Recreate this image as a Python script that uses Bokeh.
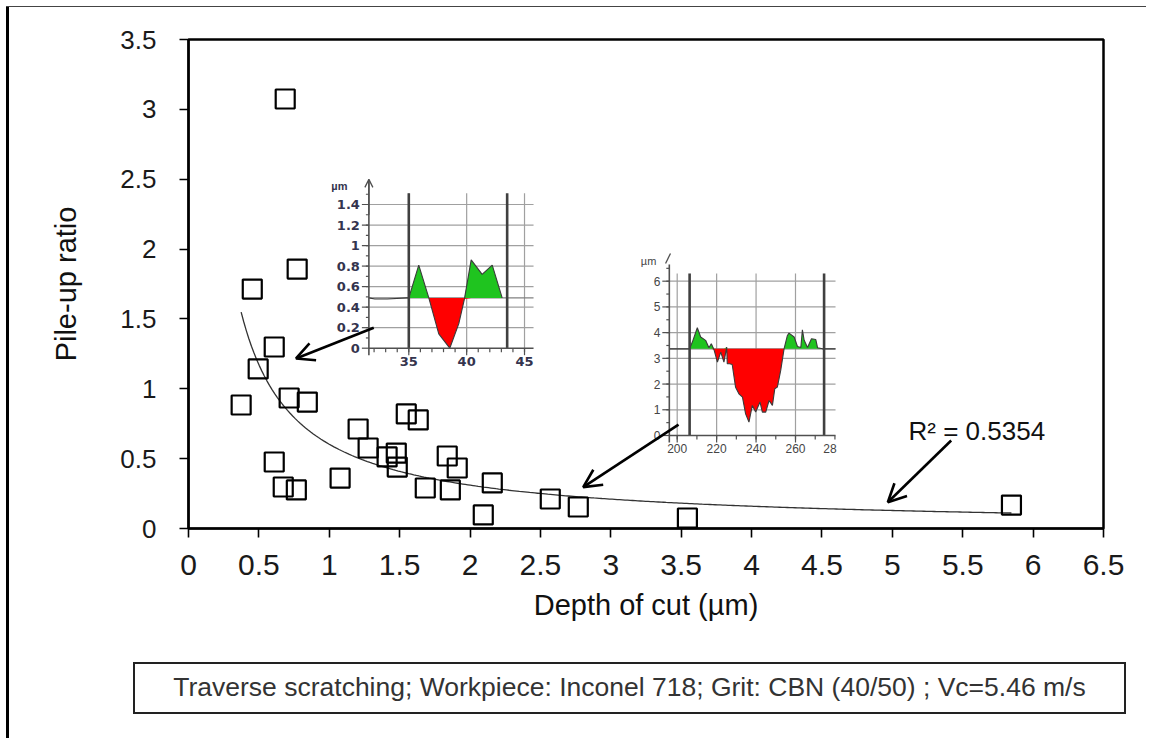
import numpy as np
from bokeh.plotting import figure
from bokeh.layouts import column
from bokeh.models import Range1d, FixedTicker, Label, Arrow, OpenHead, Div
from bokeh.core.properties import value
from bokeh.embed import file_html
from bokeh.resources import INLINE

# ---------------- main data ----------------
depth_um = [0.687, 0.453, 0.772, 0.609, 0.495, 0.374, 0.715, 0.844, 0.609, 0.673,
            0.766, 1.077, 1.205, 1.276, 1.411, 1.476, 1.483, 1.547, 1.632, 1.682,
            1.838, 1.860, 1.909, 2.094, 2.158, 2.570, 2.769, 3.544, 5.846]
pileup_ratio = [3.074, 1.714, 1.857, 1.299, 1.142, 0.884, 0.934, 0.905, 0.476, 0.297,
                0.276, 0.361, 0.712, 0.576, 0.512, 0.540, 0.440, 0.820, 0.777, 0.290,
                0.519, 0.276, 0.433, 0.097, 0.326, 0.211, 0.154, 0.075, 0.168]

x_ticks = [0, 0.5, 1, 1.5, 2, 2.5, 3, 3.5, 4, 4.5, 5, 5.5, 6, 6.5]
x_tick_labels = ["0", "0.5", "1", "1.5", "2", "2.5", "3", "3.5", "4", "4.5", "5", "5.5", "6", "6.5"]
y_ticks = [0, 0.5, 1, 1.5, 2, 2.5, 3, 3.5]
y_tick_labels = ["0", "0.5", "1", "1.5", "2", "2.5", "3", "3.5"]

r2_text = "R\u00b2 = 0.5354"
caption = "Traverse scratching; Workpiece: Inconel 718; Grit: CBN (40/50) ; Vc=5.46 m/s"

# ---------------- inset 1 profile (x in um, height in um) ----------------
prof1_x = [31.55, 32.07, 33.14, 34.8, 35.0, 35.86, 36.73, 37.59, 38.54, 39.32, 39.81,
           40.39, 41.34, 42.21, 43.07]
prof1_y = [0.49, 0.48, 0.48, 0.49, 0.49, 0.81, 0.49, 0.14, 0.0, 0.24, 0.48,
           0.86, 0.72, 0.81, 0.49]
prof1_ref = 0.49
in1_yticks = [0, 0.2, 0.4, 0.6, 0.8, 1.0, 1.2, 1.4]
in1_ytick_labels = ["0", "0.2", "0.4", "0.6", "0.8", "1", "1.2", "1.4"]
in1_xticks = [35, 40, 45]
in1_xtick_labels = ["35", "40", "45"]
in1_cursors = [35.0, 43.5]

# ---------------- inset 2 profile ----------------
prof2_x = [196.0, 206.3, 208.0, 210.2, 211.9, 214.4, 216.1, 217.3, 218.7, 220.4, 222.1,
           223.7, 225.1, 225.4, 226.6, 227.9, 229.6, 231.3, 233.1, 234.7, 236.4, 238.1,
           239.8, 242.0, 243.2, 244.9, 246.6, 248.3, 249.5, 250.8, 252.5, 254.2, 255.9,
           256.7, 259.3, 261.0, 262.7, 263.5, 264.4, 266.1, 268.1, 270.3, 271.2, 273.7,
           280.3]
prof2_y = [3.37, 3.37, 3.70, 4.19, 3.83, 3.70, 3.41, 3.57, 3.33, 2.85, 3.24,
           2.85, 3.44, 2.79, 2.79, 2.76, 1.88, 1.62, 1.49, 0.84, 0.52, 1.17,
           0.91, 1.30, 0.91, 0.91, 1.36, 1.17, 1.82, 1.88, 2.53, 3.37, 3.89,
           3.98, 3.83, 3.46, 3.42, 4.11, 3.70, 3.42, 3.76, 3.73, 3.41, 3.37,
           3.37]
prof2_ref = 3.37
in2_yticks = [0, 1, 2, 3, 4, 5, 6]
in2_ytick_labels = ["0", "1", "2", "3", "4", "5", "6"]
in2_xticks = [200, 220, 240, 260]
in2_xtick_labels = ["200", "220", "240", "260"]
in2_cursors = [206.3, 274.5]

# ---------------- layout constants ----------------
X_MIN, X_MAX, Y_MIN, Y_MAX = 0.0, 6.5, 0.0, 3.5
W, H = 1140, 640
B_LEFT, B_TOP = 179, 32
FRAME_W, FRAME_H = 915, 489
B_RIGHT = W - B_LEFT - FRAME_W
B_BOTTOM = H - B_TOP - FRAME_H
PPX = FRAME_W / (X_MAX - X_MIN)
PPY = FRAME_H / (Y_MAX - Y_MIN)

# inset placements: (inset value pair) -> (main-axis value pair)
IN1_X = ((35.0, 45.0), (1.565, 2.387))
IN1_Y = ((0.0, 1.4), (1.2905, 2.319))
IN2_X = ((200.0, 260.0), (3.4716, 4.312))
IN2_Y = ((0.0, 6.0), (0.6657, 1.7701))

FONT = "Liberation Sans"


def inset_range(place, lo, hi):
    (r0, r1), (m0, m1) = place
    k = (m1 - m0) / (r1 - r0)
    return Range1d(start=r0 + (lo - m0) / k, end=r0 + (hi - m0) / k)


def px_unit(place, ppm):
    (r0, r1), (m0, m1) = place
    return (m1 - m0) / (r1 - r0) * ppm  # pixels per inset unit


p = figure(width=W, height=H, x_range=Range1d(X_MIN, X_MAX), y_range=Range1d(Y_MIN, Y_MAX),
           output_backend="svg", toolbar_location=None,
           min_border_left=B_LEFT, min_border_right=B_RIGHT,
           min_border_top=B_TOP, min_border_bottom=B_BOTTOM)
p.background_fill_color = "white"
p.border_fill_color = "white"
p.xgrid.visible = False
p.ygrid.visible = False
p.outline_line_color = "black"
p.outline_line_width = 2.5

p.extra_x_ranges = {"i1x": inset_range(IN1_X, X_MIN, X_MAX), "i2x": inset_range(IN2_X, X_MIN, X_MAX)}
p.extra_y_ranges = {"i1y": inset_range(IN1_Y, Y_MIN, Y_MAX), "i2y": inset_range(IN2_Y, Y_MIN, Y_MAX)}

# axes
p.xaxis.ticker = FixedTicker(ticks=x_ticks)
p.xaxis.major_label_overrides = {float(t): l for t, l in zip(x_ticks, x_tick_labels)}
p.yaxis.ticker = FixedTicker(ticks=y_ticks)
p.yaxis.major_label_overrides = {float(t): l for t, l in zip(y_ticks, y_tick_labels)}
for ax in (p.xaxis[0], p.yaxis[0]):
    ax.axis_line_width = 2.2
    ax.axis_line_color = "black"
    ax.major_tick_line_width = 1.6
    ax.major_tick_line_color = "black"
    ax.major_tick_out = 9
    ax.major_tick_in = 0
    ax.minor_tick_line_color = None
    ax.major_label_text_font = FONT
    ax.major_label_text_color = "#1a1a1a"
    ax.axis_label_text_font = FONT
    ax.axis_label_text_font_style = "normal"
    ax.axis_label_text_color = "#111111"
    ax.axis_label_text_font_size = "29px"
p.xaxis.major_label_text_font_size = "30px"
p.yaxis.major_label_text_font_size = "26px"
p.xaxis.major_label_standoff = 17
p.yaxis.major_label_standoff = 23
p.xaxis.axis_label = "Depth of cut (\u00b5m)"
p.yaxis.axis_label = "Pile-up ratio"
p.xaxis.axis_label_standoff = 11
p.yaxis.axis_label_standoff = 35


# ---------------- insets ----------------
def draw_inset(xr, yr, place_x, place_y, px, py, ref, xlim, grid_top, axis_top,
               yticks, ylabels, xticks, xlabels, cursors, yminor, xminor,
               lab_font, lab_font_size, lab_bold, lab_color, unit_pos):
    kw = dict(x_range_name=xr, y_range_name=yr)
    ux = px_unit(place_x, PPX)
    uy = px_unit(place_y, PPY)
    x0, x1 = xlim
    gy = [t for t in yticks if t > 0]
    p.segment(x0=[x0] * len(gy), y0=gy, x1=[x1] * len(gy), y1=gy,
              line_color="#a0a0a0", line_width=1.2, **kw)
    p.segment(x0=xticks, y0=[0] * len(xticks), x1=xticks, y1=[grid_top] * len(xticks),
              line_color="#a0a0a0", line_width=1.2, **kw)
    p.segment(x0=[x0], y0=[ref], x1=[x1], y1=[ref], line_color="#808080", line_width=1.2, **kw)
    xa = np.array(px)
    ya = np.array(py)
    inside = (xa >= cursors[0]) & (xa <= cursors[1])
    upper = np.where(inside, np.maximum(ya, ref), ref)
    lower = np.where(inside, np.minimum(ya, ref), ref)
    base = np.full(len(xa), ref)
    p.varea(x=xa, y1=upper, y2=base, fill_color="#1fc41f", **kw)
    p.varea(x=xa, y1=base, y2=lower, fill_color="#ff0000", **kw)
    p.line(xa, ya, line_color="#3a3a3a", line_width=1.1, **kw)
    p.segment(x0=cursors, y0=[0] * len(cursors), x1=cursors, y1=[grid_top] * len(cursors),
              line_color="#404040", line_width=2.6, **kw)
    p.segment(x0=[x0], y0=[0], x1=[x1], y1=[0], line_color="#505050", line_width=1.6, **kw)
    p.segment(x0=[x0], y0=[-7 / uy], x1=[x0], y1=[axis_top], line_color="#505050", line_width=1.6, **kw)
    p.segment(x0=xminor, y0=[0] * len(xminor), x1=xminor, y1=[-4 / uy] * len(xminor),
              line_color="#505050", line_width=1.2, **kw)
    p.segment(x0=xticks, y0=[0] * len(xticks), x1=xticks, y1=[-7 / uy] * len(xticks),
              line_color="#505050", line_width=1.2, **kw)
    p.segment(x0=[x0] * len(yminor), y0=yminor, x1=[x0 - 3 / ux] * len(yminor), y1=yminor,
              line_color="#505050", line_width=1.2, **kw)
    p.segment(x0=[x0] * len(yticks), y0=yticks, x1=[x0 - 7 / ux] * len(yticks), y1=yticks,
              line_color="#505050", line_width=1.2, **kw)
    style = "bold" if lab_bold else "normal"
    p.text(x=[x0 - 9 / ux] * len(yticks), y=yticks, text=ylabels, text_align="right",
           text_baseline="middle", text_font=value(lab_font),
           text_font_size=lab_font_size, text_font_style=style, text_color=lab_color, **kw)
    p.text(x=xticks, y=[-9 / uy] * len(xticks), text=xlabels, text_align="center",
           text_baseline="top", text_font=value(lab_font),
           text_font_size=lab_font_size, text_font_style=style, text_color=lab_color, **kw)
    p.text(x=[unit_pos[0]], y=[unit_pos[1]], text=["\u00b5m"], text_align="center",
           text_baseline="middle", text_font=value(FONT), text_font_size="11px",
           text_font_style=style, text_color=lab_color, **kw)
    return ux, uy


ux1, uy1 = draw_inset("i1x", "i1y", IN1_X, IN1_Y, prof1_x, prof1_y, prof1_ref, (31.55, 45.78),
                      1.51, 1.64, in1_yticks, in1_ytick_labels, in1_xticks, in1_xtick_labels,
                      in1_cursors, list(np.round(np.arange(0.1, 1.55, 0.1), 2)),
                      list(range(32, 46)), "DejaVu Sans", "13px", True, "#34344e", (29.0, 1.585))
p.add_layout(Arrow(x_start=31.55, y_start=1.3, x_end=31.55, y_end=1.645,
                   end=OpenHead(size=8, line_width=1.3, line_color="#505050"),
                   line_width=1.3, line_color="#505050", x_range_name="i1x", y_range_name="i1y"))

ux2, uy2 = draw_inset("i2x", "i2y", IN2_X, IN2_Y, prof2_x, prof2_y, prof2_ref, (196.0, 280.3),
                      6.3, 6.65, in2_yticks, in2_ytick_labels, in2_xticks, in2_xtick_labels,
                      in2_cursors, list(np.arange(0.5, 7.0, 0.5)),
                      list(range(200, 281, 10)), FONT, "12px", False, "#454545", (185.5, 6.78))
p.segment(x0=[194.1], y0=[6.69], x1=[196.6], y1=[7.08], line_color="#505050", line_width=1.3,
          x_range_name="i2x", y_range_name="i2y")
p.text(x=[277.5], y=[-9 / uy2], text=["28"], text_align="center", text_baseline="top",
       text_font=value(FONT), text_font_size="12px", text_color="#454545",
       x_range_name="i2x", y_range_name="i2y")

# ---------------- trend line (power fit, computed from the data) ----------------
b_fit, lna_fit = np.polyfit(np.log(depth_um), np.log(pileup_ratio), 1)
xt = np.linspace(min(depth_um), max(depth_um), 300)
p.line(xt, np.exp(lna_fit) * xt ** b_fit, line_color="#333333", line_width=1.3)

# ---------------- data points ----------------
p.scatter(depth_um, pileup_ratio, marker="square", size=19, fill_color=None,
          line_color="black", line_width=2.2)

# ---------------- arrows ----------------
arrows = [((1.316, 1.437), (0.764, 1.217)),
          ((3.481, 0.744), (2.804, 0.296)),
          ((5.418, 0.630), (4.968, 0.188))]
for (xs, ys), (xe, ye) in arrows:
    p.add_layout(Arrow(x_start=xs, y_start=ys, x_end=xe, y_end=ye,
                       end=OpenHead(size=18, line_width=2.6, line_color="black"),
                       line_width=2.6, line_color="black"))

p.add_layout(Label(x=5.115, y=0.701, text=r2_text, text_align="left", text_baseline="middle",
                   text_font=FONT, text_font_size="26px", text_color="#111111"))

# ---------------- caption box ----------------
CAP_W, CAP_H = 993, 52
cap_html = (f'<div style="width:{CAP_W - 4}px;height:{CAP_H - 4}px;display:flex;'
            f'align-items:center;justify-content:center;font-family:\'Liberation Sans\';'
            f'font-size:26.5px;color:#333333;white-space:nowrap;">{caption}</div>')
cap = Div(text=cap_html, width=CAP_W, height=CAP_H, margin=(15, 0, 24, 124),
          styles={"border": "2px solid #222222", "box-sizing": "border-box"})

# thin top rule of the outer frame
top_rule = Div(text="", width=W + 3, height=1, margin=(0, 0, 0, -3),
               styles={"background-color": "#444444"})

layout = column(top_rule, p, cap, margin=(6, 0, 0, 6),
                styles={"border-left": "3px solid #000000"})

open("out.html", "w").write(file_html(layout, INLINE))
